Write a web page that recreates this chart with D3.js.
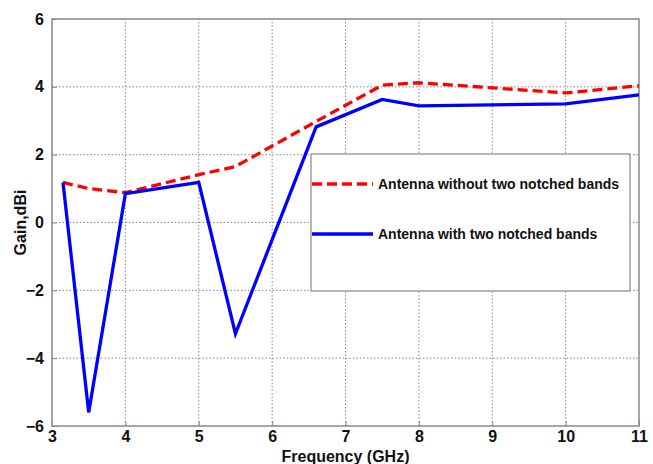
<!DOCTYPE html>
<html>
<head>
<meta charset="utf-8">
<script src="https://cdn.jsdelivr.net/npm/d3@7"></script>
<style>
  body { margin: 0; background: #fff; }
  text { font-family: "Liberation Sans", Arial, sans-serif; font-weight: bold; fill: #111; }
</style>
</head>
<body>
<svg width="653" height="464"></svg>
<script>
// Frequency points (GHz)
const freq = [3.15, 3.5, 4, 5, 5.5, 6.6, 7.5, 8, 9, 10, 11];
// Gain without notched bands (dashed red)
const gainWithout = [1.18, 1.0, 0.88, 1.41, 1.65, 2.98, 4.05, 4.12, 3.97, 3.82, 4.03];
// Gain with two notched bands (solid blue)
const gainWith = [1.18, -5.6, 0.85, 1.18, -3.28, 2.82, 3.63, 3.44, 3.47, 3.5, 3.76];

const xTicks = [3, 4, 5, 6, 7, 8, 9, 10, 11];
const yTicks = [-6, -4, -2, 0, 2, 4, 6];
const legendLabels = ["Antenna without two notched bands", "Antenna with two notched bands"];

const svg = d3.select("svg");
const margin = { left: 52, right: 14, top: 19, bottom: 38 };
const width = 653, height = 464;

const x = d3.scaleLinear().domain([3, 11]).range([margin.left, width - margin.right]);
const y = d3.scaleLinear().domain([-6, 6]).range([height - margin.bottom, margin.top]);

// grid
const grid = svg.append("g");
grid.selectAll(".gx").data(xTicks.slice(1, -1)).enter().append("line")
    .attr("x1", d => x(d)).attr("x2", d => x(d))
    .attr("y1", y(-6)).attr("y2", y(6))
    .attr("stroke", "#888").attr("stroke-width", 1).attr("stroke-dasharray", "1.5,2");
grid.selectAll(".gy").data(yTicks.slice(1, -1)).enter().append("line")
    .attr("x1", x(3)).attr("x2", x(11))
    .attr("y1", d => y(d)).attr("y2", d => y(d))
    .attr("stroke", "#888").attr("stroke-width", 1).attr("stroke-dasharray", "1.5,2");

// frame
svg.append("rect")
    .attr("x", x(3)).attr("y", y(6))
    .attr("width", x(11) - x(3)).attr("height", y(-6) - y(6))
    .attr("fill", "none").attr("stroke", "#888").attr("stroke-width", 1.5);

// axes (ticks inside)
const xAxis = svg.append("g").attr("transform", `translate(0,${y(-6)})`)
    .call(d3.axisBottom(x).tickValues(xTicks).tickSize(-5).tickPadding(5).tickFormat(d3.format("d")));
const yAxis = svg.append("g").attr("transform", `translate(${x(3)},0)`)
    .call(d3.axisLeft(y).tickValues(yTicks).tickSize(-5).tickPadding(8).tickFormat(d3.format("d")));
[xAxis, yAxis].forEach(a => {
    a.select(".domain").remove();
    a.selectAll(".tick line").attr("stroke", "#888");
    a.selectAll("text").style("font-size", "16px").attr("fill", "#111");
});

// lines
const line = vals => d3.line().x((d, i) => x(freq[i])).y(d => y(d))(vals);
svg.append("path").attr("d", line(gainWithout))
    .attr("fill", "none").attr("stroke", "#ff0000").attr("stroke-width", 3.3)
    .attr("stroke-dasharray", "10,5");
svg.append("path").attr("d", line(gainWith))
    .attr("fill", "none").attr("stroke", "#0000ff").attr("stroke-width", 3.3)
    .attr("stroke-linejoin", "miter");

// legend
const lg = svg.append("g");
lg.append("rect").attr("x", 311).attr("y", 154).attr("width", 319).attr("height", 137)
    .attr("fill", "#fff").attr("stroke", "#888").attr("stroke-width", 1.2);
const legendStyles = [
    { color: "#ff0000", dash: "10,5", ly: 184 },
    { color: "#0000ff", dash: null, ly: 234 }
];
legendStyles.forEach((s, i) => {
    lg.append("line").attr("x1", 312).attr("x2", 373).attr("y1", s.ly).attr("y2", s.ly)
        .attr("stroke", s.color).attr("stroke-width", 3.3)
        .attr("stroke-dasharray", s.dash);
    lg.append("text").attr("x", 378).attr("y", s.ly).attr("dy", "0.35em")
        .style("font-size", "14px").text(legendLabels[i]);
});

// axis titles
svg.append("text").attr("x", (x(3) + x(11)) / 2).attr("y", 462)
    .attr("text-anchor", "middle").style("font-size", "16px").text("Frequency (GHz)");
svg.append("text").attr("transform", `translate(26,${y(0)}) rotate(-90)`)
    .attr("text-anchor", "middle").style("font-size", "16px").text("Gain,dBi");
</script>
</body>
</html>
